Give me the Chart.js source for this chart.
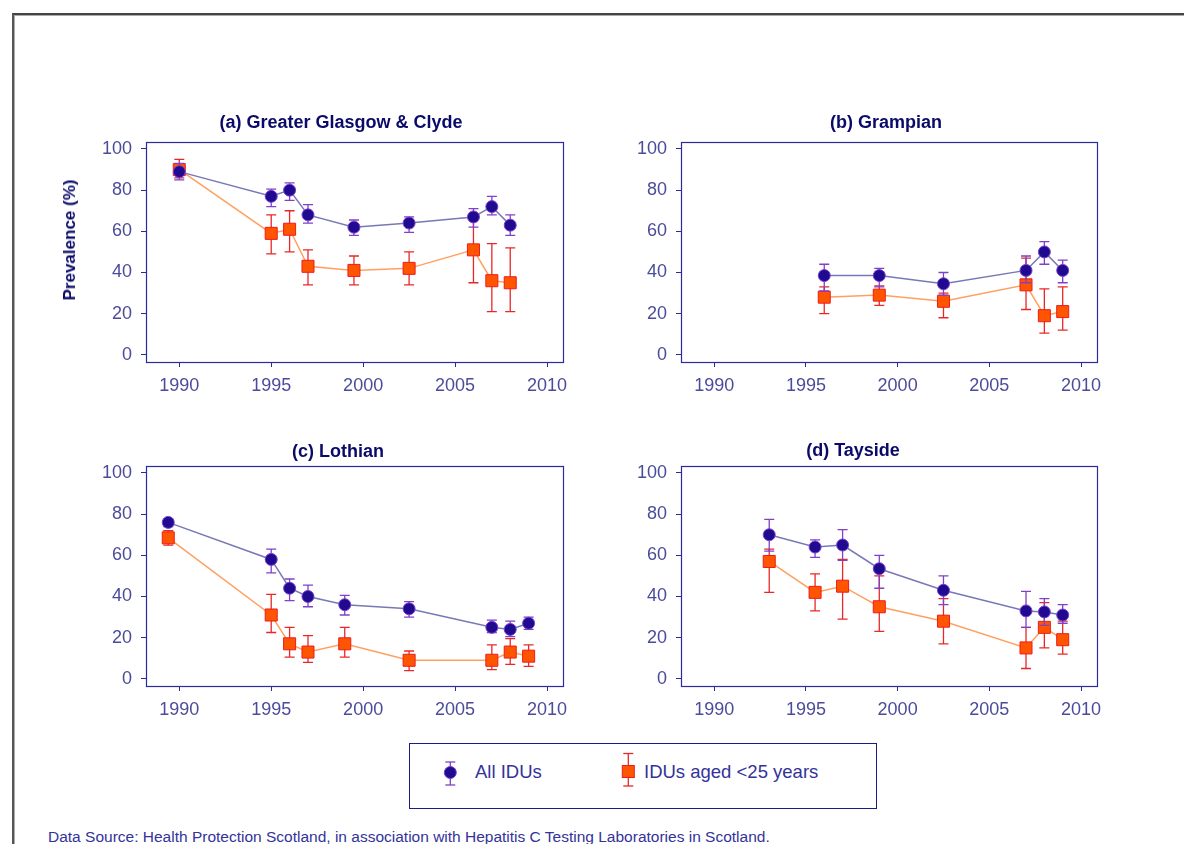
<!DOCTYPE html>
<html>
<head>
<meta charset="utf-8">
<script src="https://cdn.jsdelivr.net/npm/chart.js@4.4.1/dist/chart.umd.min.js"></script>
<style>
  html,body{margin:0;padding:0;background:#fff;}
  body{width:1184px;height:844px;position:relative;overflow:hidden;font-family:"Liberation Sans",Arial,sans-serif;}
  #frame{position:absolute;left:12px;top:13px;width:1300px;height:900px;border-top:2px solid #444;border-left:2px solid #555;box-shadow:inset 1px 1px 0 #aaa;}
  canvas{position:absolute;}
  .ptitle{position:absolute;font-weight:bold;font-size:18px;color:#0a0a6a;white-space:nowrap;transform:translate(-50%,-50%);}
  #ytitle{position:absolute;left:70px;top:240px;font-weight:bold;font-size:17px;color:#0a0a6a;white-space:nowrap;transform:translate(-50%,-50%) rotate(-90deg);}
  #legend{position:absolute;left:409px;top:743px;width:466px;height:64px;border:1px solid #1a1a8a;}
  .ltext{position:absolute;font-size:18.5px;color:#33339a;white-space:nowrap;transform:translateY(-50%);}
  #footer{position:absolute;left:48px;top:837px;font-size:15.5px;color:#33339a;white-space:nowrap;transform:translateY(-50%);}
</style>
</head>
<body>
<div id="frame"></div>
<canvas id="ca" width="507" height="270" style="left:76px;top:132px"></canvas>
<canvas id="cb" width="506" height="270" style="left:611px;top:132px"></canvas>
<canvas id="cc" width="507" height="270" style="left:76px;top:456px"></canvas>
<canvas id="cd" width="506" height="270" style="left:611px;top:456px"></canvas>
<div class="ptitle" id="ta" style="left:341px;top:122px"></div>
<div class="ptitle" id="tb" style="left:886px;top:122px"></div>
<div class="ptitle" id="tc" style="left:338px;top:451px"></div>
<div class="ptitle" id="td" style="left:853px;top:450px"></div>
<div id="ytitle"></div>
<div id="legend">
  <svg width="466" height="64" style="position:absolute;left:0;top:0">
    <g stroke="#8040c8" stroke-width="1.3">
      <line x1="40.3" y1="18" x2="40.3" y2="41"/>
      <line x1="35.3" y1="18" x2="45.3" y2="18"/>
      <line x1="35.3" y1="41" x2="45.3" y2="41"/>
    </g>
    <circle cx="40.3" cy="28.5" r="6" fill="#200a90" stroke="#7b3fd0" stroke-width="1"/>
    <g stroke="#e82828" stroke-width="1.3">
      <line x1="218.3" y1="9.5" x2="218.3" y2="42"/>
      <line x1="213.3" y1="9.5" x2="223.3" y2="9.5"/>
      <line x1="213.3" y1="42" x2="223.3" y2="42"/>
    </g>
    <rect x="212.3" y="21.5" width="12" height="12" fill="#ff5500" stroke="#ee1c1c" stroke-width="1"/>
  </svg>
  <div class="ltext" id="l1" style="left:65px;top:28px"></div>
  <div class="ltext" id="l2" style="left:234px;top:28px"></div>
</div>
<div id="footer"></div>
<script>
// ---- text ----
const panelTitles = ["(a) Greater Glasgow & Clyde", "(b) Grampian", "(c) Lothian", "(d) Tayside"];
const yAxisTitle = "Prevalence (%)";
const seriesNames = ["All IDUs", "IDUs aged <25 years"];
const sourceNote = "Data Source: Health Protection Scotland, in association with Hepatitis C Testing Laboratories in Scotland.";

// ---- tick labels ----
const xTicks = [1990, 1995, 2000, 2005, 2010];
const yTicks = [0, 20, 40, 60, 80, 100];

// ---- (a) Greater Glasgow & Clyde ----
const ggcYears  = [1990, 1995, 1996, 1997, 1999.5, 2002.5, 2006, 2007, 2008];
const ggcAll    = [89, 77, 80, 68, 62, 64, 67, 72, 63];
const ggcAllLo  = [85, 72, 75, 64, 58, 59.5, 62, 68, 58];
const ggcAllHi  = [93, 80.5, 83.5, 73, 65.5, 67, 71, 77, 68];
const ggcU25    = [90, 59, 61, 43, 41, 42, 51, 36, 35];
const ggcU25Lo  = [86, 49, 50, 34, 34, 34, 35, 21, 21];
const ggcU25Hi  = [95, 68, 70, 51, 48, 50, 66, 54, 52];

// ---- (b) Grampian ----
const graYears  = [1996, 1999, 2002.5, 2007, 2008, 2009];
const graAll    = [38.5, 38.5, 34.5, 41, 50, 41];
const graAllLo  = [31, 33, 29, 35, 44, 35];
const graAllHi  = [44, 42, 40, 48, 55, 46];
const graU25    = [28, 29, 26, 34, 19, 21];
const graU25Lo  = [20, 24, 18, 22, 10.5, 12];
const graU25Hi  = [33, 33.5, 30, 47, 32, 33];

// ---- (c) Lothian ----
const lotYears  = [1989.4, 1995, 1996, 1997, 1999, 2002.5, 2007, 2008, 2009];
const lotAll    = [76, 58, 44, 40, 36, 34, 25, 24, 27];
const lotAllLo  = [74, 51.5, 38, 35, 31, 30, 22.5, 20.5, 24];
const lotAllHi  = [77.5, 63, 48.5, 45.5, 40.5, 37.5, 28.5, 28, 30];
const lotU25    = [68.5, 31, 17, 13, 17, 9, 9, 13, 11];
const lotU25Lo  = [65, 22.5, 10.5, 8, 10.5, 4, 4.5, 7, 6];
const lotU25Hi  = [72, 41, 25, 21, 25, 13.5, 16.5, 19.5, 16.5];

// ---- (d) Tayside ----
const taySYears = [1993, 1995.5, 1997, 1999, 2002.5, 2007, 2008, 2009];
const tayAll    = [70, 64, 65, 53.5, 43, 33, 32.5, 31];
const tayAllLo  = [62, 59, 57.5, 44, 36, 25, 26, 27];
const tayAllHi  = [77.5, 67.5, 72.5, 60, 50, 42.5, 39, 36];
const tayU25    = [57, 42, 45, 35, 28, 15, 25, 19];
const tayU25Lo  = [42, 33, 29, 23, 17, 5, 15, 12];
const tayU25Hi  = [63, 51, 58, 50, 39, 25, 37, 28];

// ---- DOM text ----
document.getElementById('ta').textContent = panelTitles[0];
document.getElementById('tb').textContent = panelTitles[1];
document.getElementById('tc').textContent = panelTitles[2];
document.getElementById('td').textContent = panelTitles[3];
document.getElementById('ytitle').textContent = yAxisTitle;
document.getElementById('l1').textContent = seriesNames[0];
document.getElementById('l2').textContent = seriesNames[1];
document.getElementById('footer').textContent = sourceNote;

// ---- plugin: frame box + error bars ----
const AXIS_COLOR = '#2b2b9b';
const errorBarPlugin = {
  id: 'errbars',
  beforeDatasetsDraw(chart) {
    const a = chart.chartArea, ctx = chart.ctx;
    ctx.save();
    ctx.strokeStyle = AXIS_COLOR;
    ctx.lineWidth = 1.2;
    ctx.strokeRect(a.left + 0.5, a.top + 0.5, a.right - a.left, a.bottom - a.top);
    ctx.restore();
  },
  beforeDatasetDraw(chart, args) {
    const ds = chart.data.datasets[args.index];
    if (!ds.errLo) return;
    const ctx = chart.ctx, xs = chart.scales.x, ys = chart.scales.y;
    ctx.save();
    ctx.strokeStyle = ds.errColor;
    ctx.lineWidth = 1.3;
    ds.data.forEach((p, i) => {
      const x = xs.getPixelForValue(p.x);
      const y1 = ys.getPixelForValue(ds.errLo[i]);
      const y2 = ys.getPixelForValue(ds.errHi[i]);
      ctx.beginPath();
      ctx.moveTo(x, y1); ctx.lineTo(x, y2);
      ctx.moveTo(x - 5, y1); ctx.lineTo(x + 5, y1);
      ctx.moveTo(x - 5, y2); ctx.lineTo(x + 5, y2);
      ctx.stroke();
    });
    ctx.restore();
  }
};

function pts(xs, ys) { return xs.map((x, i) => ({ x: x, y: ys[i] })); }

function makePanel(id, years, all, allLo, allHi, u25, u25Lo, u25Hi) {
  const tickFont = { family: '"Liberation Sans", Arial, sans-serif', size: 18 };
  new Chart(document.getElementById(id), {
    type: 'scatter',
    data: {
      datasets: [
        {
          label: seriesNames[0],
          data: pts(years, all),
          errLo: allLo, errHi: allHi, errColor: '#8040c8',
          showLine: true,
          borderColor: '#7878b8', borderWidth: 1.5,
          pointStyle: 'circle', pointRadius: 6,
          pointBackgroundColor: '#200a90', pointBorderColor: '#7b3fd0', pointBorderWidth: 1
        },
        {
          label: seriesNames[1],
          data: pts(years, u25),
          errLo: u25Lo, errHi: u25Hi, errColor: '#e82828',
          showLine: true,
          borderColor: '#ffa060', borderWidth: 1.5,
          pointStyle: 'rect', pointRadius: 8.5,
          pointBackgroundColor: '#ff5500', pointBorderColor: '#ee1c1c', pointBorderWidth: 1
        }
      ]
    },
    options: {
      responsive: false,
      animation: false,
      devicePixelRatio: 1,
      layout: { padding: { left: 10, top: 10, right: 20, bottom: 6 } },
      plugins: { legend: { display: false }, tooltip: { enabled: false }, title: { display: false } },
      scales: {
        x: {
          type: 'linear', min: 1988.19, max: 2010.87,
          afterBuildTicks: s => { s.ticks = xTicks.map(v => ({ value: v })); },
          afterFit: s => { s.height = 34; s.paddingLeft = 0; s.paddingRight = 0; },
          ticks: { autoSkip: false, maxRotation: 0, padding: 8, color: '#4b4b9b', font: tickFont, callback: v => String(v) },
          grid: { display: true, drawOnChartArea: false, drawTicks: true, tickLength: 5, color: AXIS_COLOR },
          border: { display: false }
        },
        y: {
          type: 'linear', min: -3.5, max: 103.4,
          afterBuildTicks: s => { s.ticks = yTicks.map(v => ({ value: v })); },
          afterFit: s => { s.width = 60; s.paddingTop = 0; s.paddingBottom = 0; },
          ticks: { autoSkip: false, padding: 9, color: '#4b4b9b', font: tickFont, callback: v => String(v) },
          grid: { display: true, drawOnChartArea: false, drawTicks: true, tickLength: 5, color: AXIS_COLOR },
          border: { display: false }
        }
      }
    },
    plugins: [errorBarPlugin]
  });
}

makePanel('ca', ggcYears, ggcAll, ggcAllLo, ggcAllHi, ggcU25, ggcU25Lo, ggcU25Hi);
makePanel('cb', graYears, graAll, graAllLo, graAllHi, graU25, graU25Lo, graU25Hi);
makePanel('cc', lotYears, lotAll, lotAllLo, lotAllHi, lotU25, lotU25Lo, lotU25Hi);
makePanel('cd', taySYears, tayAll, tayAllLo, tayAllHi, tayU25, tayU25Lo, tayU25Hi);
</script>
</body>
</html>
